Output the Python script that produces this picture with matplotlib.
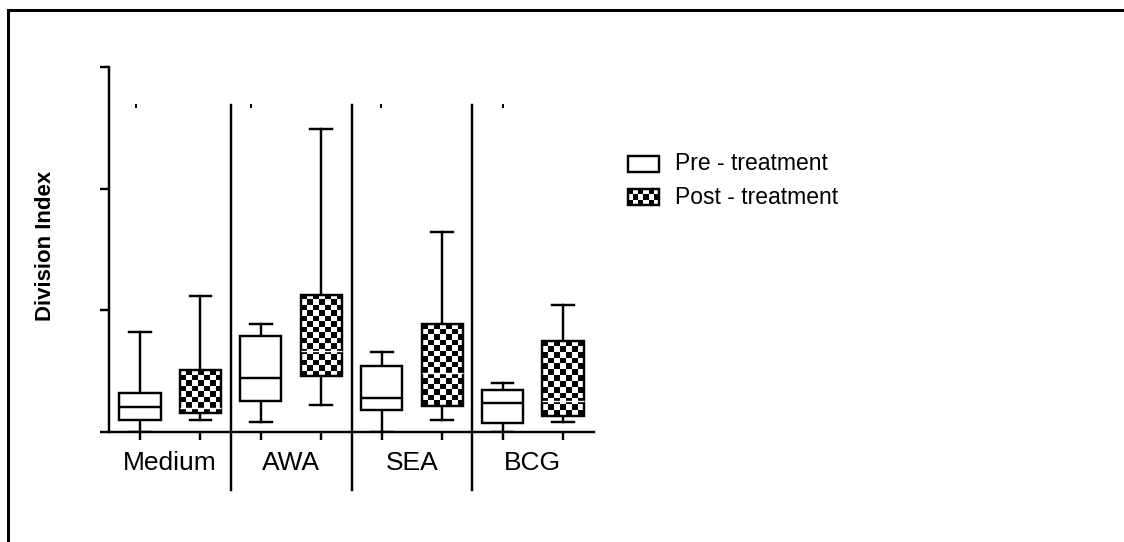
import matplotlib
matplotlib.use('Agg')
import matplotlib.pyplot as plt
from matplotlib.patches import Rectangle
from matplotlib.lines import Line2D
import numpy as np

plt.rcParams['font.family'] = ['Liberation Sans', 'DejaVu Sans']

groups = ['Medium', 'AWA', 'SEA', 'BCG']
series = ['Pre - treatment', 'Post - treatment']

# five-number summaries, one entry per group
pre_min = [0.0, 0.8, 0.0, 0.0]
pre_q1 = [1.0, 2.55, 1.8, 0.75]
pre_med = [2.05, 4.45, 2.8, 2.4]
pre_q3 = [3.2, 7.9, 5.45, 3.45]
pre_max = [8.2, 8.9, 6.6, 4.0]

post_min = [1.0, 2.2, 1.0, 0.8]
post_q1 = [1.55, 4.6, 2.15, 1.3]
post_med = [2.0, 6.65, 4.85, 2.55]
post_q3 = [5.1, 11.3, 8.9, 7.5]
post_max = [11.2, 24.9, 16.45, 10.45]

# small marks above the boxes
mark_x = [0.93, 2.84, 4.99, 7.0]
mark_y = [26.8, 26.8, 26.8, 26.8]

W, H = 1124, 542
fig = plt.figure(figsize=(W / 100, H / 100), dpi=100)
ax = fig.add_axes([109 / W, 1 - 432 / H, (594 - 109) / W, (432 - 67) / H])

stats, pos = [], []
for i in range(len(groups)):
    stats.append(dict(whislo=pre_min[i], q1=pre_q1[i], med=pre_med[i],
                      q3=pre_q3[i], whishi=pre_max[i], fliers=[]))
    stats.append(dict(whislo=post_min[i], q1=post_q1[i], med=post_med[i],
                      q3=post_q3[i], whishi=post_max[i], fliers=[]))
    pos += [2 * i + 1, 2 * i + 2]

lw = 1.75
bp = ax.bxp(stats, positions=pos, widths=0.68, capwidths=0.36,
            patch_artist=True, showfliers=False,
            boxprops=dict(facecolor='white', edgecolor='black', linewidth=lw, zorder=3),
            medianprops=dict(color='black', linewidth=lw, zorder=4),
            whiskerprops=dict(color='black', linewidth=lw),
            capprops=dict(color='black', linewidth=lw))

ax.set_xlim(0.487, 8.513)
ax.set_ylim(0, 30)


def checker(axes, patch, x0, x1, y0, y1, cell=5.6, zorder=2.5):
    p = axes.transData.transform([(x0, y0), (x1, y1)])
    nx = max(1, int(round(abs(p[1, 0] - p[0, 0]) / cell)))
    ny = max(1, int(round(abs(p[1, 1] - p[0, 1]) / cell)))
    arr = np.indices((ny, nx)).sum(axis=0) % 2
    im = axes.imshow(arr, cmap='gray', extent=(x0, x1, y0, y1), origin='lower',
                     interpolation='nearest', aspect='auto', zorder=zorder)
    im.set_clip_path(patch)
    return im


# checkered fill for the post-treatment boxes
for i in range(len(groups)):
    box = bp['boxes'][2 * i + 1]
    box.set_facecolor('none')
    p = 2 * i + 2
    checker(ax, box, p - 0.34, p + 0.34, post_q1[i], post_q3[i])
    bp['medians'][2 * i + 1].set_color('white')
    bp['medians'][2 * i + 1].set_linewidth(1.0)

ax.set_xlim(0.487, 8.513)
ax.set_ylim(0, 30)

# group separators
for s in [2.5, 4.5, 6.5]:
    ax.plot([s, s], [-4.75, 26.9], color='black', lw=lw, clip_on=False)

ax.plot(mark_x, mark_y, ls='none', marker='|', ms=3, mew=1.4, color='black', clip_on=False)

for side in ['top', 'right']:
    ax.spines[side].set_visible(False)
for side in ['left', 'bottom']:
    ax.spines[side].set_linewidth(lw)
ax.set_yticks([0, 10, 20, 30])
ax.set_yticklabels([])
ax.tick_params(axis='y', length=6.5, width=lw, direction='out')
ax.set_xticks(pos)
ax.set_xticklabels([])
ax.tick_params(axis='x', which='major', length=5.5, width=lw, direction='out')
ax.set_xticks([1.5, 3.5, 5.5, 7.5], labels=groups, minor=True)
ax.tick_params(axis='x', which='minor', length=0, pad=14, labelsize=19)

fig.text(46 / W, 1 - 246 / H, 'Division Index', rotation=90, ha='center', va='center',
         fontsize=16, fontweight='bold')

# overlay in pixel units for the outer frame and the legend
lax = fig.add_axes([0, 0, 1, 1], zorder=-1)
lax.set_xlim(0, W)
lax.set_ylim(H, 0)
lax.axis('off')
lax.add_line(Line2D([8, 8], [10, H + 5], color='black', lw=2.2))
lax.add_line(Line2D([8, W + 5], [10, 10], color='black', lw=2.2))

lax2 = fig.add_axes([0, 0, 1, 1])
lax2.set_xlim(0, W)
lax2.set_ylim(H, 0)
lax2.axis('off')
lax2.patch.set_alpha(0)
rows = [164, 197]
for k, name in enumerate(series):
    y = rows[k]
    r = Rectangle((628, y - 8), 31, 16, facecolor='white' if k == 0 else 'none',
                  edgecolor='black', lw=lw, zorder=3)
    lax2.add_patch(r)
    if k == 1:
        checker(lax2, r, 628, 659, y + 8, y - 8, cell=5.2, zorder=2)
    lax2.text(675, y, name, va='center', ha='left', fontsize=16.5)
lax2.set_xlim(0, W)
lax2.set_ylim(H, 0)

fig.savefig('out.png', dpi=100)
